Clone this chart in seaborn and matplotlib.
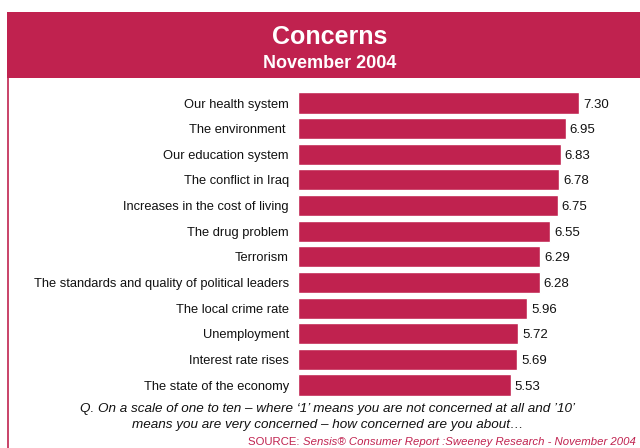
import matplotlib
matplotlib.use("Agg")
import matplotlib.pyplot as plt
import seaborn as sns
import pandas as pd
from matplotlib.patches import Rectangle

concerns = [
    "Our health system",
    "The environment ",
    "Our education system",
    "The conflict in Iraq",
    "Increases in the cost of living",
    "The drug problem",
    "Terrorism",
    "The standards and quality of political leaders",
    "The local crime rate",
    "Unemployment",
    "Interest rate rises",
    "The state of the economy",
]
scores = [7.30, 6.95, 6.83, 6.78, 6.75, 6.55, 6.29, 6.28, 5.96, 5.72, 5.69, 5.53]

title = "Concerns"
subtitle = "November 2004"
question = ("Q. On a scale of one to ten \u2013 where \u20181\u2019 means you are not concerned at all and \u201910\u2019\n"
            "means you are very concerned \u2013 how concerned are you about\u2026")
source_tag = "SOURCE: "
source = "Sensis\u00ae Consumer Report :Sweeney Research - November 2004"

CRIMSON = "#C0224F"

sns.set_theme(style="white")
plt.rcParams["font.family"] = ["Liberation Sans", "DejaVu Sans"]

df = pd.DataFrame({"concern": concerns, "score": scores})

W, H = 640, 448
fig = plt.figure(figsize=(W / 100, H / 100), dpi=100)
fig.patch.set_facecolor("white")

# header band and left panel border
fig.patches.append(Rectangle((7 / W, 1 - 78 / H), 1, 66 / H, transform=fig.transFigure,
                             facecolor=CRIMSON, edgecolor="none", zorder=0))
fig.lines.append(plt.Line2D([8 / W, 8 / W], [0, 1 - 78 / H], transform=fig.transFigure,
                            color=CRIMSON, lw=1.2))
fig.text(330 / W, 1 - 37 / H, title, ha="center", va="center", color="white",
         fontsize=18, fontweight="bold")
fig.text(330 / W, 1 - 64 / H, subtitle, ha="center", va="center", color="white",
         fontsize=13, fontweight="bold")

# bar area: rows centered from y=103 to y=385
row = (385 - 103) / 11
top = 103 - row / 2
bottom = 385 + row / 2
ax = fig.add_axes([298 / W, 1 - bottom / H, (W - 298) / W, (bottom - top) / H])
sns.barplot(data=df, x="score", y="concern", color=CRIMSON, saturation=1,
            width=0.82, orient="h", ax=ax)
ax.set_xlim(0, (W - 298) / 38.5)
ax.set_ylim(len(concerns) - 0.5, -0.5)
ax.set_xlabel("")
ax.set_ylabel("")
ax.set_xticks([])
for s in ax.spines.values():
    s.set_visible(False)
ax.tick_params(axis="y", length=0, pad=6.5, labelsize=9.3, labelcolor="#111111")
for i, v in enumerate(scores):
    ax.text(v + 0.1, i, f"{v:.2f}", va="center_baseline", ha="left", fontsize=9.5,
            color="#111111")

fig.text(328 / W, 1 - 417 / H, question, ha="center", va="center", fontsize=9.7,
         style="italic", color="#111111", linespacing=1.45)

# source line: upright tag followed by italic text
tag = fig.text(248 / W, 1 - 442 / H, source_tag, ha="left", va="center", fontsize=8.2,
               color=CRIMSON)
fig.canvas.draw()
tag_end = tag.get_window_extent().x1 / W
fig.text(tag_end, 1 - 442 / H, source, ha="left", va="center", fontsize=8.2,
         style="italic", color=CRIMSON)

fig.savefig("out.png", dpi=100)
